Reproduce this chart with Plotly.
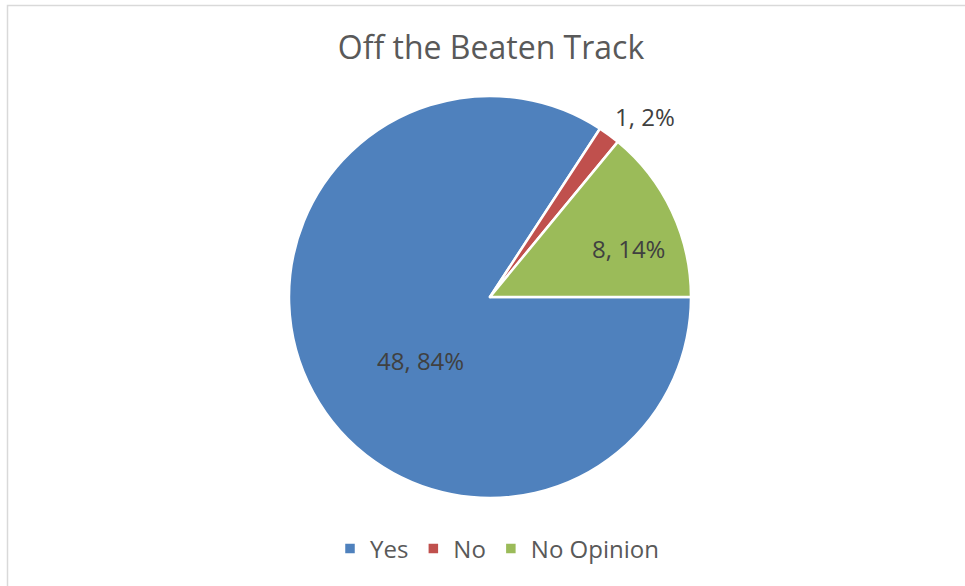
import plotly.graph_objects as go

# Survey responses
categories = ["Yes", "No", "No Opinion"]
counts = [48, 1, 8]
colors = ["#4F81BD", "#C0504D", "#9BBB59"]
title_text = "Off the Beaten Track"

W, H = 965, 586
cx, cy, r = 490, 297, 201  # pie centre and radius in pixels
FONT = "Open Sans"
# data-label anchor points (pixels) for each slice
label_px = [(420, 360), (645, 116), (628, 248)]

total = sum(counts)
label_text = [f"{v}, {round(100 * v / total)}%" for v in counts]

fig = go.Figure(
    go.Pie(
        labels=categories,
        values=counts,
        sort=False,
        direction="clockwise",
        rotation=90,
        marker=dict(colors=colors, line=dict(color="white", width=2.5)),
        textinfo="none",
        hoverinfo="label+value+percent",
        domain=dict(
            x=[(cx - 300) / W, (cx + 300) / W],
            y=[1 - (cy + r) / H, 1 - (cy - r) / H],
        ),
    )
)

annotations = [
    dict(
        text=t,
        x=px / W,
        y=1 - py / H,
        xref="paper",
        yref="paper",
        xanchor="center",
        yanchor="middle",
        showarrow=False,
        font=dict(family=FONT, size=24, color="#404040"),
    )
    for t, (px, py) in zip(label_text, label_px)
]

fig.update_layout(
    width=W,
    height=H,
    margin=dict(l=0, r=0, t=0, b=0),
    paper_bgcolor="white",
    title=dict(
        text=title_text,
        x=491 / W,
        xanchor="center",
        y=1 - 48 / H,
        yanchor="middle",
        font=dict(family=FONT, size=32, color="#595959"),
    ),
    legend=dict(
        orientation="h",
        x=497 / W,
        xanchor="center",
        y=1 - 549 / H,
        yanchor="middle",
        font=dict(family=FONT, size=24, color="#595959"),
        itemwidth=30,
    ),
    annotations=annotations,
    shapes=[
        dict(
            type="rect",
            xref="paper",
            yref="paper",
            x0=7.5 / W,
            x1=1.01,
            y0=-0.01,
            y1=1 - 5.5 / H,
            line=dict(color="#D9D9D9", width=1.5),
        )
    ],
)

fig.write_html("out.html")
